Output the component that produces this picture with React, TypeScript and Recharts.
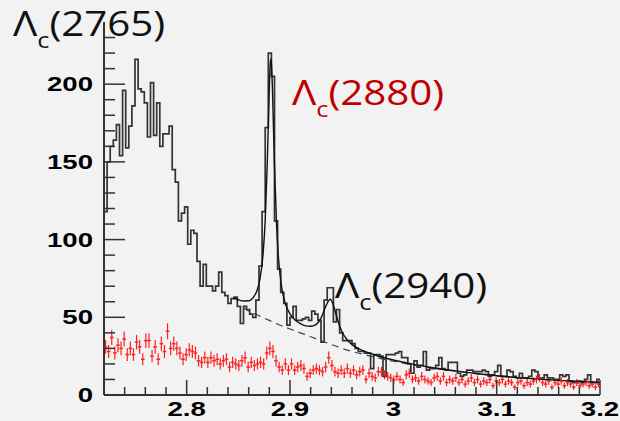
import React from "react";
import { ComposedChart, ErrorBar, Line, Scatter, XAxis, YAxis } from "recharts";

// binning of both histograms (GeV)
const BIN_LO = 2.72;
const BIN_W = 0.003;

// black histogram, counts per bin
const HIST = [
  118, 150, 160, 164, 174, 154, 196, 159, 173, 186,
  216, 197, 195, 188, 166, 201, 167, 188, 160, 168,
  168, 173, 145, 137, 112, 117, 121, 97, 106, 104,
  86, 70, 84, 70, 70, 67, 70, 79, 66, 64,
  59, 62, 63, 57, 46, 57, 55, 52, 50, 61,
  83, 118, 172, 220, 205, 112, 81, 66, 59, 45,
  50, 57, 48, 48, 49, 50, 48, 54, 52, 48,
  34, 61, 69, 69, 47, 55, 40, 35, 35, 35,
  33, 30, 28, 28, 27, 27, 17, 26, 26, 25,
  12, 26, 26, 26, 27, 28, 24, 24, 20, 14,
  22, 18, 19, 28, 16, 17, 17, 19, 24, 17,
  16, 21, 21, 21, 14, 12, 13, 16, 16, 15,
  15, 15, 16, 15, 12, 13, 15, 19, 12, 12,
  16, 15, 12, 11, 14, 11, 11, 12, 16, 15,
  11, 11, 13, 11, 11, 10, 10, 13, 12, 13,
  9, 8, 8, 9, 8, 10, 13, 8, 8, 10,
];

// red (wrong-sign) histogram, counts per bin
const RED = [
  31, 28, 37, 27, 32, 30, 36, 26, 30, 26,
  34, 31, 23, 35, 35, 25, 31, 23, 33, 28,
  41, 30, 33, 30, 27, 23, 26, 29, 28, 27,
  22, 21, 24, 21, 24, 22, 23, 20, 22, 23,
  18, 21, 20, 19, 22, 24, 18, 21, 19, 20,
  21, 20, 27, 30, 28, 22, 18, 16, 20, 16,
  20, 16, 18, 19, 17, 12, 14, 16, 17, 16,
  15, 18, 24, 19, 15, 14, 16, 14, 17, 14,
  16, 13, 15, 16, 10, 14, 12, 11, 15, 15,
  13, 12, 11, 10, 12, 10, 8, 13, 14, 10,
  11, 9, 12, 10, 9, 8, 11, 12, 9, 12,
  8, 10, 9, 11, 8, 10, 7, 9, 11, 8,
  10, 7, 9, 8, 10, 6, 9, 8, 10, 7,
  9, 8, 5, 8, 9, 6, 8, 7, 9, 10,
  11, 8, 7, 9, 5, 8, 7, 9, 6, 8,
  7, 5, 8, 6, 7, 8, 6, 7, 5, 7,
];

// total fit curve
const FIT_X = [
  2.845, 2.85, 2.855, 2.86, 2.865, 2.868, 2.871, 2.874, 2.876, 2.878, 2.879, 2.88,
  2.881, 2.8815, 2.882, 2.883, 2.884, 2.885, 2.887, 2.889, 2.892, 2.895, 2.9, 2.905,
  2.91, 2.915, 2.92, 2.925, 2.93, 2.935, 2.939, 2.942, 2.945, 2.95, 2.955, 2.96, 2.97,
  2.98, 2.99, 3.0, 3.02, 3.04, 3.06, 3.08, 3.1, 3.12, 3.14, 3.16, 3.18, 3.2,
];
const FIT_Y = [
  62.5, 61.3, 60.5, 60.6, 63.3, 67.1, 74.8, 91.2, 112.5, 149.2, 173.7, 197.9,
  214, 216.1, 213.7, 197, 172.3, 147.3, 109.4, 87, 69.1, 59.8, 52.2, 48.2,
  45.9, 44.5, 44.2, 45.3, 49.5, 57.7, 61.6, 57.8, 50.7, 41.2, 35.8, 32.4, 28.7,
  26.3, 24.1, 22.5, 19.7, 17.4, 15.5, 13.8, 12.4, 11.2, 10.2, 9.4, 8.7, 8.1,
];

// background component (dashed)
const BG_X = [
  2.855, 2.86, 2.87, 2.88, 2.89, 2.9, 2.91, 2.92, 2.93, 2.94, 2.95, 2.96, 2.97,
  2.98, 2.99, 3.0, 3.02, 3.04, 3.06, 3.08, 3.1, 3.12, 3.14, 3.16, 3.18, 3.2,
];
const BG_Y = [
  56, 54, 51, 48, 45, 42.5, 40, 37.5, 35, 32.5, 30, 28, 26.3,
  24.8, 23.1, 21.7, 19.2, 17.1, 15.3, 13.7, 12.3, 11.1, 10.1, 9.3, 8.6, 8.0,
];

const X_TICKS = [
  2.72, 2.74, 2.76, 2.78, 2.8, 2.82, 2.84, 2.86, 2.88, 2.9, 2.92, 2.94, 2.96, 2.98,
  3, 3.02, 3.04, 3.06, 3.08, 3.1, 3.12, 3.14, 3.16, 3.18, 3.2,
];
const X_LABELS = [2.8, 2.9, 3, 3.1, 3.2];
const Y_TICKS = [
  0, 10, 20, 30, 40, 50, 60, 70, 80, 90, 100, 110, 120,
  130, 140, 150, 160, 170, 180, 190, 200, 210, 220, 230,
];
const Y_LABELS = [0, 50, 100, 150, 200];

const AXIS_COLOR = "#333";
const FRAME_COLOR = "#666";
const RED_COLOR = "#ff1f1f";
const LABEL_FONT = "'Liberation Sans', Arial, sans-serif";
const NOTE_FONT = "'Open Sans', sans-serif";
const STRETCH = 1.38;

const histData = [
  ...HIST.map((v, i) => ({ x: BIN_LO + BIN_W * i, y: v })),
  { x: 3.2, y: HIST[HIST.length - 1] },
];
const redData = RED.map((v, i) => ({
  x: BIN_LO + BIN_W * (i + 0.5),
  y: v,
  err: 0.8 * Math.sqrt(v),
}));
const fitData = FIT_X.map((x, i) => ({ x, y: FIT_Y[i] }));
const bgData = BG_X.map((x, i) => ({ x, y: BG_Y[i] }));

function XTick(props: any) {
  const { x, y, payload } = props;
  const major = X_LABELS.includes(payload.value);
  return (
    <g>
      <line x1={x} x2={x} y1={y} y2={y - (major ? 15 : 8)} stroke={AXIS_COLOR} strokeWidth={1.5} />
      {major && (
        <text
          transform={`translate(${x},${y + 21}) scale(${STRETCH},1)`}
          textAnchor="middle"
          fontFamily={LABEL_FONT}
          fontWeight="bold"
          fontSize={20}
          fill="#000"
        >
          {String(payload.value)}
        </text>
      )}
    </g>
  );
}

function YTick(props: any) {
  const { x, y, payload } = props;
  const major = Y_LABELS.includes(payload.value);
  return (
    <g>
      <line x1={x} x2={x + (major ? 21 : 11)} y1={y} y2={y} stroke={AXIS_COLOR} strokeWidth={1.5} />
      {major && (
        <text
          transform={`translate(${x - 11},${y + 7}) scale(${STRETCH},1)`}
          textAnchor="end"
          fontFamily={LABEL_FONT}
          fontWeight="bold"
          fontSize={20}
          fill="#000"
        >
          {String(payload.value)}
        </text>
      )}
    </g>
  );
}

function StateLabel({ x, y, mass, color }: { x: number; y: number; mass: string; color: string }) {
  return (
    <g transform={`translate(${x},${y}) scale(1.15,1)`}>
      <text x={0} y={0} fontFamily={NOTE_FONT} fontSize={35} fill={color}>
        {"\u039B"}
        <tspan fontSize={22} dy={12}>c</tspan>
        <tspan dy={-12}>({mass})</tspan>
      </text>
    </g>
  );
}

function RedMarker(props: any) {
  const { cx, cy } = props;
  return <line x1={cx - 1.8} x2={cx + 1.8} y1={cy} y2={cy} stroke={RED_COLOR} strokeWidth={1.5} />;
}

export default function App() {
  return (
    <div style={{ position: "absolute", left: 0, top: 0, width: 620, height: 421, background: "#f2f2f2" }}>
      <ComposedChart width={620} height={421} margin={{ top: 22, right: 20, bottom: 0, left: 0 }}>
        <XAxis
          dataKey="x"
          type="number"
          domain={[2.72, 3.2]}
          ticks={X_TICKS}
          interval={0}
          tick={XTick}
          tickSize={0}
          tickMargin={0}
          tickLine={false}
          axisLine={{ stroke: AXIS_COLOR, strokeWidth: 2 }}
          height={26}
          allowDataOverflow
        />
        <XAxis
          xAxisId="top"
          orientation="top"
          type="number"
          domain={[2.72, 3.2]}
          tick={false}
          tickLine={false}
          axisLine={{ stroke: FRAME_COLOR, strokeWidth: 2 }}
          height={0}
        />
        <YAxis
          type="number"
          domain={[0, 240]}
          ticks={Y_TICKS}
          interval={0}
          tick={YTick}
          tickSize={0}
          tickMargin={0}
          tickLine={false}
          axisLine={{ stroke: AXIS_COLOR, strokeWidth: 2 }}
          width={104}
          allowDataOverflow
        />
        <YAxis
          yAxisId="right"
          orientation="right"
          type="number"
          domain={[0, 240]}
          tick={false}
          tickLine={false}
          axisLine={{ stroke: FRAME_COLOR, strokeWidth: 2 }}
          width={0}
        />
        <Scatter data={redData} dataKey="y" shape={RedMarker} isAnimationActive={false}>
          <ErrorBar dataKey="err" direction="y" width={0} stroke={RED_COLOR} strokeWidth={1.2} />
        </Scatter>
        <Line
          data={histData}
          dataKey="y"
          type="stepAfter"
          stroke="#333"
          strokeWidth={1.7}
          dot={false}
          isAnimationActive={false}
        />
        <Line
          data={bgData}
          dataKey="y"
          type="monotone"
          stroke="#444"
          strokeWidth={1.2}
          strokeDasharray="7 5"
          dot={false}
          isAnimationActive={false}
        />
        <Line
          data={fitData}
          dataKey="y"
          type="monotone"
          stroke="#111"
          strokeWidth={1.4}
          dot={false}
          isAnimationActive={false}
        />
      </ComposedChart>
      <svg width={620} height={421} style={{ position: "absolute", left: 0, top: 0, pointerEvents: "none" }}>
        <rect x={106} y={17} width={62} height={9} fill="#f2f2f2" />
        <StateLabel x={13} y={36} mass="2765" color="#111" />
        <StateLabel x={292} y={105} mass="2880" color="#c00000" />
        <StateLabel x={335} y={298} mass="2940" color="#111" />
      </svg>
    </div>
  );
}
